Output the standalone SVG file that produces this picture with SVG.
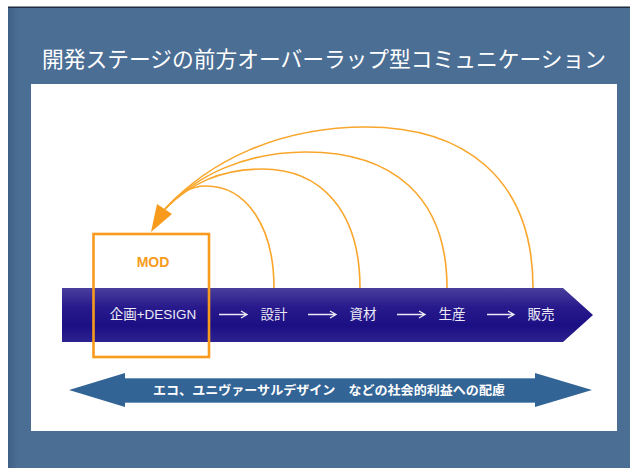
<svg xmlns="http://www.w3.org/2000/svg" width="630" height="468" viewBox="0 0 630 468">
<defs>
<linearGradient id="band" x1="0" y1="0" x2="0" y2="1">
<stop offset="0" stop-color="#4a3e9c"/>
<stop offset="0.35" stop-color="#281a8c"/>
<stop offset="0.7" stop-color="#1c0f84"/>
<stop offset="1" stop-color="#2d2290"/>
</linearGradient>
<linearGradient id="bgl" x1="0" y1="0" x2="1" y2="0">
<stop offset="0" stop-color="#3f5f86"/>
<stop offset="1" stop-color="#4b6e95"/>
</linearGradient>
</defs>
<style>
.curve{fill:none;stroke:#f9a62c;stroke-width:1.6}
.lbl{font-family:"Liberation Sans","Noto Sans CJK JP",sans-serif;font-size:13.5px;fill:#ecebf5;text-anchor:middle}
.sarr{fill:none;stroke:#ecebf5;stroke-width:1.3}
</style>
<rect x="0" y="0" width="630" height="468" fill="#ffffff"/>
<rect x="8" y="7" width="622" height="461" fill="#4b6e95"/>
<rect x="8" y="7" width="10" height="461" fill="url(#bgl)"/>
<rect x="8" y="6.5" width="622" height="1.5" fill="#1e2d3e"/>
<text x="42" y="67" font-family="'Noto Sans CJK JP',sans-serif" font-size="22" fill="#ffffff" textLength="564" lengthAdjust="spacingAndGlyphs">開発ステージの前方オーバーラップ型コミュニケーション</text>
<rect x="31" y="84" width="586" height="347" fill="#ffffff"/>

<g id="band-arrow">
<polygon points="62,288 563,288 593,315 563,342 62,342" fill="url(#band)"/>
</g>
<g id="stage-design">
<text class="lbl" x="153" y="319">企画+DESIGN</text>
</g>
<g id="stage-sekkei">
<text class="lbl" x="274" y="319">設計</text>
</g>
<g id="stage-shizai">
<text class="lbl" x="363" y="319">資材</text>
</g>
<g id="stage-seisan">
<text class="lbl" x="452" y="319">生産</text>
</g>
<g id="stage-hanbai">
<text class="lbl" x="541" y="319">販売</text>
</g>
<g id="mod">
<rect x="93.5" y="234" width="115.5" height="123" fill="none" stroke="#f89b1c" stroke-width="2.6"/>
<text x="153" y="267" font-family="'Liberation Sans',sans-serif" font-size="14" font-weight="bold" fill="#f89b1c" text-anchor="middle">MOD</text>
</g>

<g id="connectors">
<path class="sarr" d="M219,314.5 H246 M241,311 L247,314.5 L241,318"/>
<path class="sarr" d="M308,314.5 H335 M330,311 L336,314.5 L330,318"/>
<path class="sarr" d="M397,314.5 H424 M419,311 L425,314.5 L419,318"/>
<path class="sarr" d="M487,314.5 H513 M508,311 L514,314.5 L508,318"/>
<path class="curve" d="M274,288 C274,226 246,186 206,186 C190,186 178,194 165,209"/>
<path class="curve" d="M360,288 C360,212 322,169 262,169 C220,169 190,184 165,209"/>
<path class="curve" d="M447,288 C447,196 392,152 306,152 C244,152 196,176 165,209"/>
<path class="curve" d="M533,288 C533,176 462,127 366,127 C280,127 210,160 165,209"/>
<polygon points="151,232 157,204 172,214" fill="#f89b1c"/>
</g>

<g id="benefit-arrow">
<polygon points="69,390 125,373 125,378 535,378 535,373 592,390 535,407 535,403 125,403 125,407" fill="#336496"/>
<line x1="125" y1="378.5" x2="535" y2="378.5" stroke="#6f96bf" stroke-width="1"/>
<line x1="125" y1="402.5" x2="535" y2="402.5" stroke="#6f96bf" stroke-width="1"/>
<text x="329" y="395" font-family="'Noto Sans CJK JP',sans-serif" font-size="12.5" font-weight="bold" fill="#ffffff" text-anchor="middle" textLength="352" lengthAdjust="spacingAndGlyphs">エコ、ユニヴァーサルデザイン　などの社会的利益への配慮</text>
</g>
</svg>
